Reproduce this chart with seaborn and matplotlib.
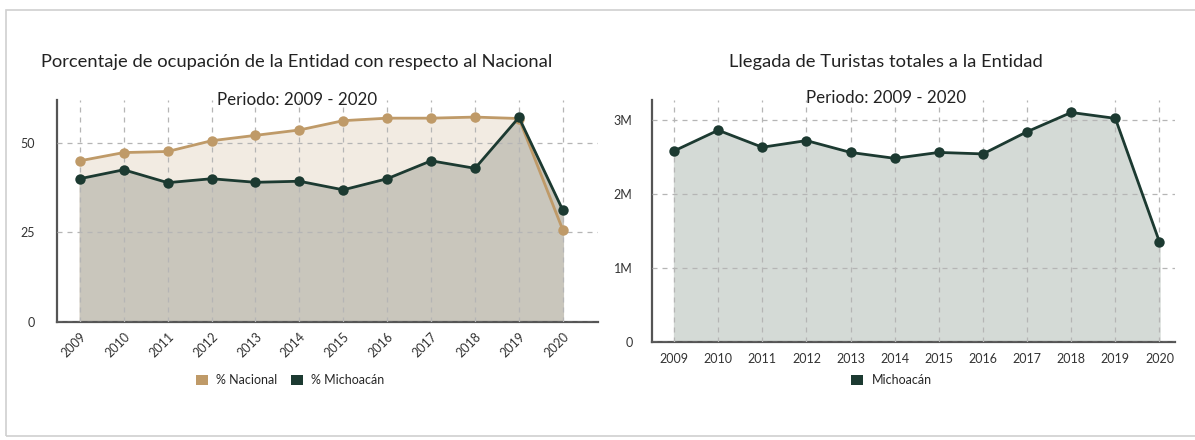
import matplotlib
matplotlib.use("Agg")
import matplotlib.pyplot as plt
import seaborn as sns
import pandas as pd
from matplotlib.patches import Patch, Rectangle
from matplotlib.ticker import FuncFormatter

years = [2009, 2010, 2011, 2012, 2013, 2014, 2015, 2016, 2017, 2018, 2019, 2020]
pct_nacional = [45.0, 47.3, 47.6, 50.6, 52.1, 53.6, 56.2, 56.9, 56.9, 57.2, 56.8, 25.7]
pct_michoacan = [40.0, 42.5, 38.9, 40.0, 39.0, 39.3, 36.9, 40.0, 45.0, 42.9, 57.1, 31.2]
turistas = [2.58e6, 2.86e6, 2.63e6, 2.72e6, 2.56e6, 2.48e6, 2.56e6, 2.54e6, 2.84e6, 3.10e6, 3.02e6, 1.35e6]

left_title = "Porcentaje de ocupación de la Entidad con respecto al Nacional"
right_title = "Llegada de Turistas totales a la Entidad"
subtitle = "Periodo: 2009 - 2020"

TAN = "#BF9A68"
TAN_FILL = "#F2EBE2"
GREEN = "#1C3A31"
GRAY_FILL = "#C9C6BC"
GREEN_FILL = "#D4DAD6"
TXT = "#333333"

sns.set_theme(style="white")
plt.rcParams["font.family"] = ["Lato", "DejaVu Sans"]

df_left = pd.DataFrame({"year": years * 2,
                        "valor": pct_nacional + pct_michoacan,
                        "serie": ["% Nacional"] * 12 + ["% Michoacán"] * 12})
df_right = pd.DataFrame({"year": years, "turistas": turistas})

fig = plt.figure(figsize=(11.95, 4.4), dpi=100)
fig.patch.set_facecolor("white")

# card border
card = Rectangle((0.005, 0.008), 1.2, 0.97, transform=fig.transFigure,
                 facecolor="none", edgecolor="#d0d0d0", linewidth=1.2, zorder=-1)
fig.patches.append(card)

axL = fig.add_axes([0.0477, 0.268, 0.4527, 0.505])
axR = fig.add_axes([0.5456, 0.223, 0.4376, 0.550])

def style_axis(ax):
    ax.set_facecolor("none")
    for s in ["top", "right"]:
        ax.spines[s].set_visible(False)
    for s in ["left", "bottom"]:
        ax.spines[s].set_color("#555555")
        ax.spines[s].set_linewidth(1.6)
    ax.grid(True, color="#b5b5b5", linestyle=(0, (4, 4)), linewidth=0.9)
    ax.set_axisbelow(False)
    ax.tick_params(axis="both", length=0, labelsize=9, colors=TXT)
    ax.set_xlabel("")
    ax.set_ylabel("")

# ---- left chart
axL.fill_between(years, pct_nacional, 0, color=TAN_FILL, zorder=1)
axL.fill_between(years, pct_michoacan, 0, color=GRAY_FILL, zorder=1.1)
sns.lineplot(data=df_left, x="year", y="valor", hue="serie",
             palette={"% Nacional": TAN, "% Michoacán": GREEN},
             marker="o", markersize=7.5, markeredgewidth=0, linewidth=2,
             legend=False, ax=axL, zorder=3)
axL.set_xlim(2009 - 0.52, 2020 + 0.8)
axL.set_ylim(0, 62)
axL.set_xticks(years)
axL.set_xticklabels([str(y) for y in years], rotation=45, ha="right",
                    rotation_mode="anchor")
axL.set_yticks([0, 25, 50])
style_axis(axL)
axL.tick_params(axis="y", pad=16)
axL.tick_params(axis="x", pad=6)

fig.text(0.2485, 0.859, left_title, ha="center", va="center", fontsize=13.2, color="#222222")
fig.text(0.2485, 0.773, subtitle, ha="center", va="center", fontsize=12.2, color="#222222")

hL = [Patch(facecolor=TAN, edgecolor="none", label="% Nacional"),
      Patch(facecolor=GREEN, edgecolor="none", label="% Michoacán")]
fig.legend(handles=hL, loc="center", bbox_to_anchor=(0.243, 0.136), ncol=2,
           frameon=False, fontsize=9, handlelength=0.9, handleheight=0.9,
           handletextpad=0.7, columnspacing=1.1)

# ---- right chart
axR.fill_between(years, turistas, 0, color=GREEN_FILL, zorder=1)
sns.lineplot(data=df_right, x="year", y="turistas", color=GREEN,
             marker="o", markersize=7.5, markeredgewidth=0, linewidth=2,
             legend=False, ax=axR, zorder=3)
axR.set_xlim(2009 - 0.5, 2020 + 0.35)
axR.set_ylim(0, 3.27e6)
axR.set_xticks(years)
axR.set_xticklabels([str(y) for y in years])
axR.set_yticks([0, 1e6, 2e6, 3e6])
axR.yaxis.set_major_formatter(FuncFormatter(lambda v, p: "0" if v == 0 else f"{int(v/1e6)}M"))
style_axis(axR)
axR.tick_params(axis="y", pad=14)
axR.tick_params(axis="x", pad=8)

fig.text(0.7414, 0.859, right_title, ha="center", va="center", fontsize=13.2, color="#222222")
fig.text(0.7414, 0.777, subtitle, ha="center", va="center", fontsize=12.2, color="#222222")

hR = [Patch(facecolor=GREEN, edgecolor="none", label="Michoacán")]
fig.legend(handles=hR, loc="center", bbox_to_anchor=(0.746, 0.136), ncol=1,
           frameon=False, fontsize=9, handlelength=0.9, handleheight=0.9,
           handletextpad=0.7)

fig.savefig("out.png", dpi=100, facecolor="white")
